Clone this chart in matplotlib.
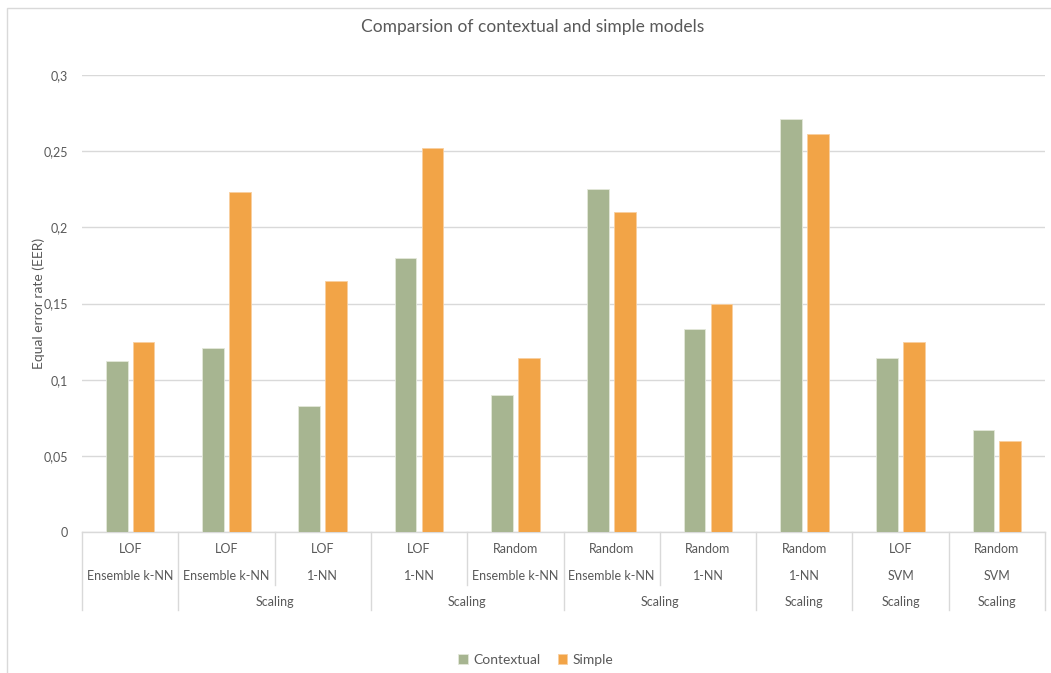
import matplotlib
matplotlib.use("Agg")
import matplotlib.pyplot as plt
import matplotlib.transforms as mtransforms
from matplotlib.patches import Rectangle
import numpy as np

plt.rcParams['font.family'] = ['Lato', 'DejaVu Sans']

# categories, inner to outer level
algorithms = ["LOF", "LOF", "LOF", "LOF", "Random", "Random", "Random", "Random", "LOF", "Random"]
methods = ["Ensemble k-NN", "Ensemble k-NN", "1-NN", "1-NN", "Ensemble k-NN",
           "Ensemble k-NN", "1-NN", "1-NN", "SVM", "SVM"]
preproc_labels = ["", "Scaling", "Scaling", "Scaling", "Scaling", "Scaling", "Scaling"]
preproc_spans = [1, 2, 2, 2, 1, 1, 1]

contextual = [0.112, 0.121, 0.083, 0.180, 0.090, 0.225, 0.133, 0.271, 0.114, 0.067]
simple = [0.125, 0.223, 0.165, 0.252, 0.114, 0.210, 0.150, 0.261, 0.125, 0.060]

yticks = [0, 0.05, 0.1, 0.15, 0.2, 0.25, 0.3]
ytick_labels = ["0", "0,05", "0,1", "0,15", "0,2", "0,25", "0,3"]

GREEN = "#A7B591"
ORANGE = "#F2A447"
TEXT = "#595959"
GRID = "#D9D9D9"

W, H = 1051, 673
fig = plt.figure(figsize=(W / 100, H / 100), dpi=100)
fig.patch.set_facecolor("white")

# outer chart frame (only top/left visible)
fig.patches.append(Rectangle((7 / W, -0.1), 1.2, (H - 8) / H + 0.1, transform=fig.transFigure,
                             fill=False, edgecolor=GRID, linewidth=1.0))

ax_left, ax_right, ax_top, ax_bottom = 82, 1045, 75, 532
ax = fig.add_axes([ax_left / W, (H - ax_bottom) / H, (ax_right - ax_left) / W,
                   (ax_bottom - ax_top) / H])

n = len(algorithms)
x = np.arange(n)
bw = 0.225
off = 0.14
ax.bar(x - off, contextual, width=bw, color=GREEN, edgecolor="#E3E8DA", linewidth=0.6,
       label="Contextual", zorder=3)
ax.bar(x + off, simple, width=bw, color=ORANGE, edgecolor="#F8CFA0", linewidth=0.6,
       label="Simple", zorder=3)

ax.set_xlim(-0.5, n - 0.5)
ax.set_ylim(0, 0.3)
ax.set_yticks(yticks)
ax.set_yticklabels(ytick_labels)
ax.tick_params(axis="y", length=0, pad=10, labelsize=9, labelcolor=TEXT)
ax.set_xticks([])
ax.grid(axis="y", color=GRID, linewidth=1.0, zorder=0)
for s in ["top", "right", "left"]:
    ax.spines[s].set_visible(False)
ax.spines["bottom"].set_color(GRID)
ax.spines["bottom"].set_linewidth(1.0)

ax.set_ylabel("Equal error rate (EER)", fontsize=10, color=TEXT, labelpad=0)
ax.yaxis.set_label_coords(-(ax_left - 45) / (ax_right - ax_left), 0.5)

fig.text(533 / W, 1 - 27 / H, "Comparsion of contextual and simple models", fontsize=12.5,
         color=TEXT, ha="center", va="center")

# multi-level category axis
trans = mtransforms.blended_transform_factory(ax.transData, ax.transAxes)
ax_h = ax_bottom - ax_top


def ypos(py):
    return (ax_bottom - py) / ax_h


for i in range(n):
    ax.text(x[i], ypos(549), algorithms[i], transform=trans, ha="center", va="center",
            fontsize=9, color=TEXT)
    ax.text(x[i], ypos(576), methods[i], transform=trans, ha="center", va="center",
            fontsize=9, color=TEXT)

# separators: full height at outer group edges, short ones inside groups
edges = [0]
for s in preproc_spans:
    edges.append(edges[-1] + s)
for b in range(n + 1):
    bottom = 610 if b in edges else 585
    ax.plot([b - 0.5, b - 0.5], [ypos(532), ypos(bottom)], transform=trans, color=GRID,
            linewidth=1.0, clip_on=False)

for lab, start, end in zip(preproc_labels, edges[:-1], edges[1:]):
    ax.text((start + end - 1) / 2, ypos(602), lab, transform=trans, ha="center", va="center",
            fontsize=9, color=TEXT)

leg = fig.legend(loc="center", bbox_to_anchor=(536 / W, (H - 660) / H), ncol=2, frameon=False,
                 fontsize=10, handlelength=0.7, handleheight=0.7, handletextpad=0.4,
                 columnspacing=1.2)
for t in leg.get_texts():
    t.set_color(TEXT)

fig.savefig("out.png", dpi=100)
